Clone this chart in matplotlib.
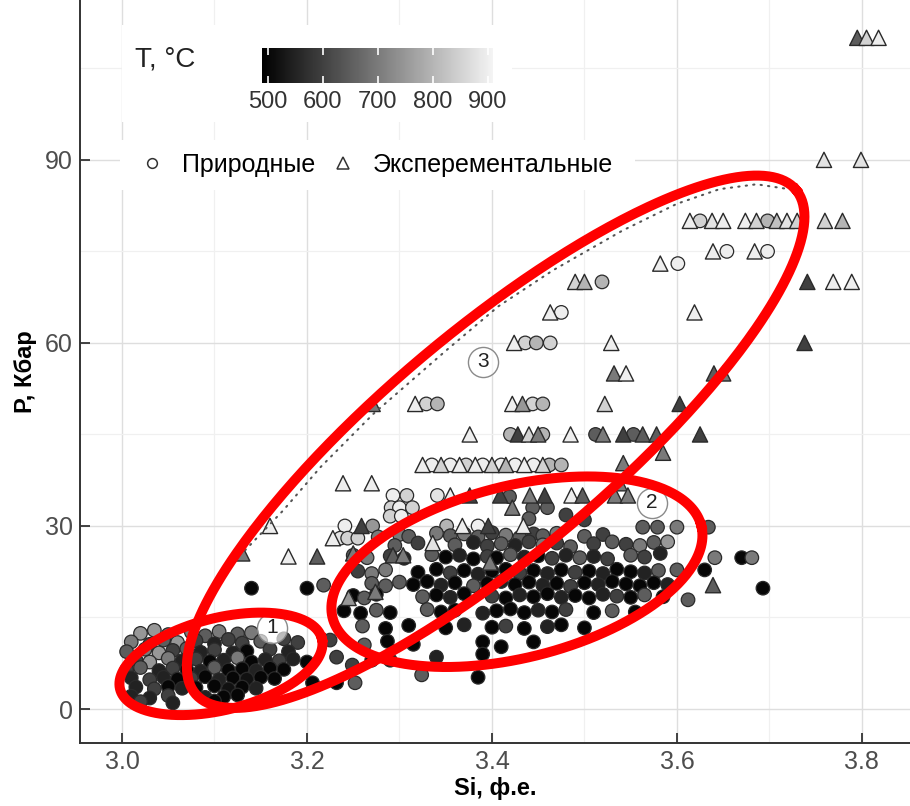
import numpy as np
import matplotlib
matplotlib.use('Agg')
import matplotlib.pyplot as plt
from matplotlib.colors import LinearSegmentedColormap, Normalize
from matplotlib.cm import ScalarMappable
from matplotlib.lines import Line2D
from matplotlib.patches import Rectangle

plt.rcParams['font.family'] = ['Liberation Sans', 'DejaVu Sans']

# ---------------- природные (кружки): Si, P, T ----------------
nat_x = [
    3.020, 3.035, 3.050, 3.075, 3.090, 3.105, 3.125, 3.140,
    3.010, 3.030, 3.045, 3.060, 3.080, 3.100, 3.115, 3.130, 3.150, 3.175, 3.190,
    3.005, 3.025, 3.040, 3.055, 3.070, 3.085, 3.100, 3.120, 3.135, 3.160, 3.180,
    3.015, 3.030, 3.050, 3.065, 3.080, 3.095, 3.110, 3.125, 3.140, 3.155, 3.170, 3.185,
    3.005, 3.020, 3.040, 3.055, 3.070, 3.085, 3.100, 3.115, 3.130, 3.145, 3.160, 3.175,
    3.010, 3.030, 3.045, 3.060, 3.075, 3.090, 3.105, 3.120, 3.135, 3.150, 3.165,
    3.015, 3.035, 3.050, 3.065, 3.080, 3.100, 3.115, 3.130, 3.145,
    3.010, 3.030, 3.050, 3.090, 3.110, 3.125,
    3.020, 3.055, 3.100,
    # верхние
    3.625, 3.698, 3.654, 3.698, 3.601, 3.519, 3.475, 3.436, 3.448, 3.463,
    3.329, 3.341, 3.444, 3.455, 3.420, 3.455, 3.512, 3.553,
    3.335, 3.355, 3.372, 3.390, 3.410, 3.425, 3.445, 3.462, 3.475,
    3.293, 3.308, 3.341, 3.419,
    3.291, 3.300, 3.314, 3.444, 3.460,
    3.290, 3.302, 3.440, 3.480, 3.500,
    3.241, 3.271, 3.351, 3.385, 3.563, 3.579, 3.600, 3.634,
    # облако 2
    3.236, 3.244, 3.255, 3.277, 3.300, 3.310, 3.340, 3.355, 3.370, 3.385, 3.400, 3.415, 3.430, 3.445, 3.455, 3.470, 3.500, 3.520,
    3.295, 3.320, 3.360, 3.380, 3.395, 3.410, 3.425, 3.440, 3.455, 3.470, 3.485, 3.510, 3.530, 3.545, 3.560, 3.575, 3.590,
    3.250, 3.265, 3.290, 3.305, 3.335, 3.350, 3.365, 3.380, 3.395, 3.405, 3.420, 3.435, 3.450, 3.465, 3.480, 3.495, 3.510, 3.525, 3.550, 3.565, 3.582, 3.641, 3.670, 3.681,
    3.255, 3.270, 3.285, 3.320, 3.340, 3.355, 3.370, 3.385, 3.400, 3.415, 3.430, 3.445, 3.460, 3.475, 3.490, 3.505, 3.520, 3.535, 3.550, 3.565, 3.580, 3.600, 3.630,
    3.140, 3.200, 3.218, 3.270, 3.285, 3.300, 3.315, 3.330, 3.345, 3.360, 3.380, 3.395, 3.410, 3.425, 3.440, 3.455, 3.470, 3.485, 3.500, 3.515, 3.530, 3.545, 3.560, 3.575, 3.590, 3.693,
    3.250, 3.262, 3.275, 3.325, 3.340, 3.355, 3.370, 3.400, 3.415, 3.430, 3.445, 3.460, 3.475, 3.490, 3.505, 3.520, 3.535, 3.550, 3.565, 3.585, 3.612,
    3.240, 3.258, 3.275, 3.290, 3.330, 3.345, 3.360, 3.390, 3.405, 3.420, 3.435, 3.450, 3.465, 3.480, 3.510, 3.530, 3.555,
    3.260, 3.285, 3.310, 3.350, 3.370, 3.400, 3.415, 3.435, 3.460, 3.475, 3.500,
    3.225, 3.262, 3.287, 3.315, 3.390, 3.410, 3.445,
    3.200, 3.232, 3.249, 3.270, 3.290, 3.340, 3.390,
    3.206, 3.232, 3.252, 3.324, 3.385,
]
nat_y = [
    12.4, 12.9, 12.2, 12.6, 12.0, 12.7, 12.3, 12.5,
    11.0, 10.6, 11.3, 10.9, 11.2, 10.7, 11.4, 10.8, 11.1, 11.5, 10.9,
    9.4, 9.8, 9.2, 9.6, 9.9, 9.3, 9.7, 9.2, 9.5, 9.8, 9.4,
    8.1, 7.7, 8.3, 7.9, 8.2, 7.8, 8.0, 8.4, 7.7, 8.1, 7.9, 8.2,
    6.4, 6.8, 6.3, 6.7, 6.5, 6.2, 6.8, 6.4, 6.6, 6.3, 6.7, 6.5,
    5.1, 4.8, 5.2, 4.9, 5.0, 5.3, 4.8, 5.1, 4.9, 5.2, 5.0,
    3.6, 3.3, 3.7, 3.4, 3.5, 3.8, 3.3, 3.6, 3.4,
    2.1, 1.8, 2.2, 1.9, 2.0, 2.3,
    1.2, 1.0, 1.3,
    80.0, 80.0, 75.0, 75.0, 73.0, 70.0, 65.0, 60.0, 60.0, 60.0,
    50.0, 50.0, 50.0, 50.0, 45.0, 45.0, 45.0, 45.0,
    40.0, 40.0, 40.0, 40.0, 40.0, 40.0, 40.0, 40.0, 40.0,
    35.0, 35.0, 35.0, 34.8,
    33.0, 33.0, 33.0, 33.0, 33.0,
    31.6, 31.6, 31.2, 31.8, 31.0,
    30.0, 30.0, 30.0, 30.0, 29.8, 29.8, 29.8, 29.8,
    28.0, 28.0, 28.0, 28.2, 28.6, 28.3, 28.8, 28.4, 28.7, 28.2, 28.9, 28.5, 28.1, 28.7, 28.4, 28.8, 28.3, 28.6,
    26.8, 27.2, 26.9, 27.3, 26.7, 27.1, 26.8, 27.4, 26.9, 27.2, 26.6, 27.1, 27.4, 27.0, 26.8, 27.3, 27.4,
    25.2, 24.8, 25.1, 24.7, 25.3, 24.9, 25.2, 24.6, 25.0, 24.8, 25.3, 24.9, 25.1, 24.7, 25.2, 24.8, 25.0, 24.6, 25.2, 24.9, 25.5, 24.8, 24.8, 24.8,
    22.6, 22.2, 22.8, 22.4, 22.9, 22.3, 22.7, 22.1, 22.6, 22.9, 22.3, 22.7, 22.2, 22.8, 22.4, 22.6, 22.2, 22.9, 22.5, 22.3, 22.7, 22.8, 22.8,
    19.8, 19.8, 20.3, 20.6, 20.2, 20.8, 20.4, 20.9, 20.3, 20.7, 20.2, 20.6, 20.9, 20.4, 20.8, 20.3, 20.6, 20.1, 20.7, 20.4, 20.9, 20.5, 20.2, 20.7, 20.4, 19.8,
    18.6, 18.2, 18.8, 18.4, 18.7, 18.3, 18.9, 18.5, 18.2, 18.7, 18.4, 18.9, 18.3, 18.6, 18.2, 18.8, 18.5, 18.3, 18.7, 18.4, 17.9,
    16.1, 15.7, 16.2, 15.8, 16.3, 15.9, 16.2, 15.7, 16.1, 16.4, 15.8, 16.2, 15.9, 16.3, 15.8, 16.1, 15.9,
    13.6, 13.2, 13.7, 13.3, 13.8, 13.4, 13.6, 13.2, 13.5, 13.8, 13.3,
    11.3, 10.5, 11.1, 10.6, 11.0, 10.2, 11.0,
    7.7, 8.5, 7.2, 8.0, 8.0, 8.5, 9.0,
    4.3, 4.3, 4.3, 5.6, 5.2,
]
nat_t = [
    750, 750, 700, 700, 650, 700, 650, 700,
    700, 600, 650, 750, 600, 550, 600, 600, 650, 600, 600,
    650, 700, 750, 600, 650, 550, 600, 550, 500, 600, 550,
    600, 750, 700, 550, 600, 500, 550, 700, 500, 550, 600, 550,
    600, 650, 550, 600, 500, 550, 650, 500, 500, 550, 500, 500,
    550, 600, 550, 500, 600, 500, 550, 500, 520, 500, 500,
    550, 600, 500, 550, 500, 500, 520, 500, 550,
    550, 550, 600, 550, 500, 500,
    600, 550, 500,
    850, 800, 900, 900, 900, 800, 900, 850, 800, 850,
    850, 800, 850, 800, 800, 800, 650, 650,
    900, 900, 850, 900, 900, 900, 900, 800, 800,
    900, 850, 880, 650,
    850, 900, 850, 650, 650,
    850, 900, 650, 600, 600,
    900, 750, 800, 900, 650, 650, 700, 650,
    880, 850, 850, 700, 700, 650, 700, 650, 700, 650, 600, 700, 650, 600, 650, 700, 650, 600,
    650, 600, 650, 550, 600, 650, 550, 600, 700, 600, 650, 600, 650, 600, 700, 650, 750,
    650, 700, 600, 550, 650, 500, 550, 500, 600, 500, 650, 550, 500, 600, 550, 650, 550, 600, 650, 600, 550, 700, 500, 700,
    600, 700, 700, 500, 500, 600, 500, 550, 500, 500, 600, 500, 550, 500, 600, 500, 550, 500, 500, 550, 650, 650, 500,
    500, 500, 650, 650, 650, 650, 500, 500, 550, 500, 650, 500, 550, 500, 500, 550, 500, 600, 500, 550, 500, 500, 500, 500, 550, 500,
    500, 650, 500, 650, 500, 550, 500, 600, 500, 550, 500, 500, 550, 500, 500, 550, 600, 500, 650, 500, 650,
    500, 500, 650, 500, 650, 500, 500, 550, 500, 500, 500, 550, 500, 600, 500, 650, 500,
    650, 500, 500, 500, 550, 500, 600, 500, 550, 500, 500,
    600, 650, 500, 500, 500, 500, 500,
    500, 600, 600, 500, 550, 550, 500,
    500, 500, 650, 650, 500,
]

# ---------------- экспериментальные (треугольники) ----------------
exp_x = [3.795, 3.805, 3.818, 3.759, 3.799,
         3.614, 3.638, 3.650, 3.674, 3.686, 3.708, 3.719, 3.730, 3.760, 3.779,
         3.639, 3.684, 3.582, 3.490, 3.500, 3.741, 3.769, 3.789, 3.463, 3.619,
         3.424, 3.529, 3.738, 3.532, 3.545, 3.640, 3.650,
         3.271, 3.317, 3.422, 3.433, 3.522, 3.603,
         3.376, 3.428, 3.440, 3.450, 3.485, 3.520, 3.542, 3.563, 3.578, 3.625, 3.585, 3.542,
         3.325, 3.345, 3.365, 3.382, 3.400, 3.415, 3.435, 3.455,
         3.239, 3.270, 3.538,
         3.355, 3.376, 3.409, 3.441, 3.457, 3.486, 3.498, 3.533, 3.547, 3.422,
         3.160, 3.259, 3.368, 3.396, 3.434, 3.228, 3.336,
         3.130, 3.180, 3.211, 3.250, 3.293, 3.304, 3.398, 3.274, 3.245, 3.639]
exp_y = [110, 110, 110, 90, 90,
         80, 80, 80, 80, 80, 80, 80, 80, 80, 80,
         75, 75, 73, 70, 70, 70, 70, 70, 65, 65,
         60, 60, 60, 55, 55, 55, 55,
         50, 50, 50, 50, 50, 50,
         45, 45, 45, 45, 45, 45, 45, 45, 45, 45, 42, 40.3,
         40, 40, 40, 40, 40, 40, 40, 40,
         37, 37, 37,
         35, 35, 35, 35, 35, 35, 35, 35, 35, 33,
         30, 30, 30, 30, 30, 28, 27.2,
         25.5, 25, 25, 25.5, 25.2, 25.2, 24, 19.2, 18.2, 20.3]
exp_t = [650, 850, 900, 880, 880,
         900, 880, 900, 900, 850, 820, 880, 850, 850, 800,
         900, 900, 900, 850, 800, 600, 900, 900, 900, 900,
         900, 900, 600, 700, 900, 650, 700,
         700, 900, 900, 750, 850, 600,
         900, 600, 850, 700, 900, 700, 600, 650, 650, 600, 700, 700,
         900, 850, 900, 900, 850, 800, 900, 850,
         900, 900, 700,
         900, 600, 600, 700, 600, 900, 650, 700, 700, 700,
         900, 600, 900, 600, 900, 900, 880,
         700, 900, 650, 700, 650, 700, 700, 700, 750, 650]

# пунктирная граница
env_x = [3.133, 3.174, 3.215, 3.272, 3.350, 3.407, 3.466, 3.541, 3.600, 3.646, 3.686, 3.730]
env_y = [26.0, 32.5, 39.7, 48.4, 58.7, 66.0, 71.9, 78.4, 82.8, 85.2, 86.0, 85.0]

# эллипсы: центр (Si, P), полуоси в пикселях, угол
ell_cx = [3.107, 3.427, 3.404]
ell_cy = [7.4, 22.5, 43.8]
ell_a = [104, 190, 392]
ell_b = [46, 86, 112]
ell_ang = [14, 14, 40]

lab_x = [3.162, 3.573, 3.390]
lab_y = [13.3, 33.8, 56.9]
lab_txt = ['1', '2', '3']

XMIN, XMAX = 2.9546, 3.852
YMIN, YMAX = -5.57, 116.2
W, H = 910, 806
AX_L, AX_B, AX_W, AX_H = 80, 63, 830, 743
SX = AX_W / (XMAX - XMIN)
SY = AX_H / (YMAX - YMIN)

cmap = LinearSegmentedColormap.from_list('tgray', ['#000000', '#f4f4f4'])
norm = Normalize(490, 910)

fig = plt.figure(figsize=(W / 100, H / 100), dpi=100)
ax = fig.add_axes([AX_L / W, AX_B / H, AX_W / W, AX_H / H])
ax.set_xlim(XMIN, XMAX)
ax.set_ylim(YMIN, YMAX)

ax.set_xticks([3.0, 3.2, 3.4, 3.6, 3.8])
ax.set_xticklabels(['3.0', '3.2', '3.4', '3.6', '3.8'])
ax.set_yticks([0, 30, 60, 90])
ax.set_xticks([3.1, 3.3, 3.5, 3.7], minor=True)
ax.set_yticks([15, 45, 75, 105], minor=True)
ax.grid(which='major', color='#dedede', lw=1.0)
ax.grid(which='minor', color='#f0f0f0', lw=0.9)
ax.set_axisbelow(True)
ax.tick_params(which='major', direction='in', length=7, width=1.3, color='#333333',
               labelsize=18, labelcolor='#4d4d4d', pad=5)
ax.tick_params(which='minor', length=0)
for s in ['top', 'right']:
    ax.spines[s].set_visible(False)
for s in ['left', 'bottom']:
    ax.spines[s].set_color('#333333')
    ax.spines[s].set_linewidth(1.4)

ax.set_xlabel('Si, ф.е.', fontsize=17, fontweight='bold', labelpad=2)
ax.set_ylabel('P, Кбар', fontsize=17, fontweight='bold', labelpad=6)

# белые подложки легенд
ax.add_patch(Rectangle((0.05, 0.836), 0.47, 0.13, transform=ax.transAxes,
                       facecolor='white', edgecolor='none', zorder=1.5))
ax.add_patch(Rectangle((0.048, 0.744), 0.621, 0.068, transform=ax.transAxes,
                       facecolor='white', edgecolor='none', zorder=1.5))

ax.scatter(nat_x, nat_y, c=nat_t, cmap=cmap, norm=norm, marker='o', s=95,
           edgecolors='#2a2a2a', linewidths=0.9, zorder=3)
ax.scatter(exp_x, exp_y, c=exp_t, cmap=cmap, norm=norm, marker='^', s=120,
           edgecolors='#2a2a2a', linewidths=1.0, zorder=3.2)

ax.plot(env_x, env_y, color='#555555', lw=1.5, ls=(0, (0.6, 3.0)),
        dash_capstyle='round', zorder=4)

t = np.linspace(0, 2 * np.pi, 400)
for cx, cy, a, b, ang in zip(ell_cx, ell_cy, ell_a, ell_b, ell_ang):
    th = np.radians(ang)
    dx = a * np.cos(t) * np.cos(th) - b * np.sin(t) * np.sin(th)
    dy = a * np.cos(t) * np.sin(th) + b * np.sin(t) * np.cos(th)
    ax.plot(cx + dx / SX, cy + dy / SY, color='#ff0000', lw=7.2, zorder=6)

ax.scatter(lab_x, lab_y, s=470, facecolor=(1, 1, 1, 0.65), edgecolor='#8a8a8a',
           linewidths=1.0, zorder=5)
for x, y, s in zip(lab_x, lab_y, lab_txt):
    ax.text(x, y, s, ha='center', va='center', fontsize=15, color='#222222', zorder=5.5)

# легенда форм
handles = [Line2D([], [], marker='o', ls='none', mfc='white', mec='#333333', ms=7, mew=1.1),
           Line2D([], [], marker='^', ls='none', mfc='white', mec='#333333', ms=8, mew=1.1)]
ax.legend(handles, ['Природные', 'Эксперементальные'], loc='center left',
          bbox_to_anchor=(0.045, 0.778), ncol=2, frameon=False, fontsize=18,
          handlelength=1.0, handletextpad=0.7, columnspacing=0.6, borderpad=0.4)

# шкала температуры
ax.text((135 - AX_L) / AX_W, (H - 60 - AX_B) / AX_H, 'T, °C',
        transform=ax.transAxes, fontsize=20, color='#222222', ha='left', va='center', zorder=7)
cax = fig.add_axes([262 / W, (H - 83) / H, 231 / W, 35 / H])
sm = ScalarMappable(norm=norm, cmap=cmap)
cb = fig.colorbar(sm, cax=cax, orientation='horizontal', ticks=[500, 600, 700, 800, 900])
cb.outline.set_visible(False)
cax.tick_params(axis='x', direction='in', colors='white', length=5, width=1.2,
                top=True, bottom=True, labelsize=17, labelcolor='#333333', pad=6)

fig.savefig('out.png', dpi=100)
